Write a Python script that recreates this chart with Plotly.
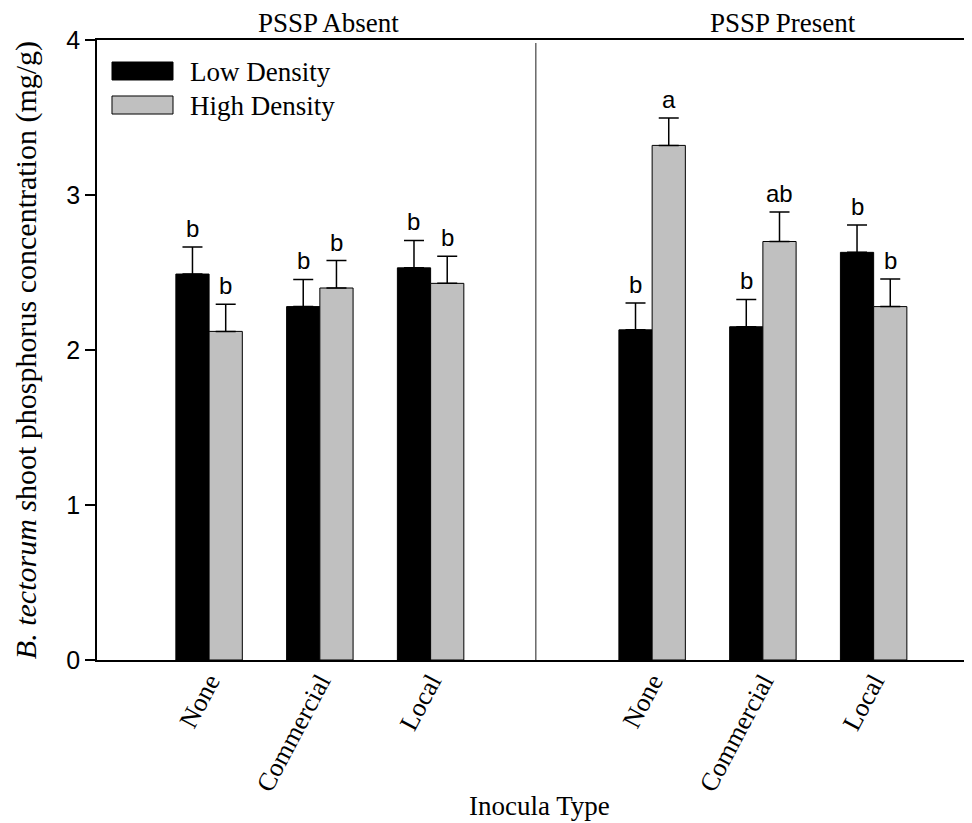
import plotly.graph_objects as go

# ---- data ----
categories = ["None", "Commercial", "Local", "None", "Commercial", "Local"]
positions = [1, 2, 3, 5, 6, 7]
low_density = [2.49, 2.28, 2.53, 2.13, 2.15, 2.63]
low_err = [0.175, 0.175, 0.177, 0.174, 0.176, 0.176]
high_density = [2.12, 2.40, 2.43, 3.32, 2.70, 2.28]
high_err = [0.175, 0.177, 0.175, 0.177, 0.19, 0.178]
low_letters = ["b", "b", "b", "b", "b", "b"]
high_letters = ["b", "b", "b", "a", "ab", "b"]
panel_titles = ["PSSP Absent", "PSSP Present"]
y_ticks = [0, 1, 2, 3, 4]

SERIF = "Liberation Serif, Times New Roman, serif"
SANS = "Liberation Sans, Arial, sans-serif"
BW = 0.3

fig = go.Figure()
fig.add_trace(go.Bar(
    x=[p - BW / 2 for p in positions], y=low_density, width=BW,
    marker=dict(color="black", line=dict(color="black", width=1)),
    error_y=dict(type="data", array=low_err, arrayminus=[0] * 6, symmetric=False,
                 color="black", thickness=1.5, width=10),
    name="Low Density", showlegend=False))
fig.add_trace(go.Bar(
    x=[p + BW / 2 for p in positions], y=high_density, width=BW,
    marker=dict(color="#c0c0c0", line=dict(color="black", width=1)),
    error_y=dict(type="data", array=high_err, arrayminus=[0] * 6, symmetric=False,
                 color="black", thickness=1.5, width=10),
    name="High Density", showlegend=False))

annotations = []
for p, v, e, t in zip(positions, low_density, low_err, low_letters):
    annotations.append(dict(x=p - BW / 2, y=v + e, text=t, showarrow=False, xref="x", yref="y",
                            yanchor="bottom", yshift=3, font=dict(family=SANS, size=24, color="black")))
for p, v, e, t in zip(positions, high_density, high_err, high_letters):
    annotations.append(dict(x=p + BW / 2, y=v + e, text=t, showarrow=False, xref="x", yref="y",
                            yanchor="bottom", yshift=3, font=dict(family=SANS, size=24, color="black")))

# panel titles
for xc, t in zip([2.08, 6.18], panel_titles):
    annotations.append(dict(x=xc, y=1, xref="x", yref="paper", text=t, showarrow=False,
                            yanchor="bottom", yshift=0, font=dict(family=SERIF, size=27, color="black")))

# axis titles
annotations.append(dict(x=0.506, y=0, xref="paper", yref="paper", text="Inocula Type",
                        showarrow=False, yanchor="middle", yshift=-146,
                        font=dict(family=SERIF, size=27, color="black")))
annotations.append(dict(x=-0.081, y=0.5, xref="paper", yref="paper",
                        text="<i>B. tectorum s</i>hoot phosphorus concentration (mg/g)",
                        showarrow=False, textangle=-90, xanchor="center", yanchor="middle",
                        font=dict(family=SERIF, size=30, color="black")))

# legend
legend_items = [("Low Density", "black", 0.9355, 0.9645), ("High Density", "#c0c0c0", 0.8806, 0.9097)]
shapes = []
for name, col, y0, y1 in legend_items:
    shapes.append(dict(type="rect", xref="paper", yref="paper", x0=0.01714, x1=0.08686,
                       y0=y0, y1=y1, fillcolor=col, line=dict(color="black", width=1)))
    annotations.append(dict(x=0.104, y=(y0 + y1) / 2, xref="paper", yref="paper", text=name,
                            showarrow=False, xanchor="left", yanchor="middle", yshift=-1,
                            font=dict(family=SERIF, size=27, color="black")))

# divider between panels
shapes.append(dict(type="line", xref="x", yref="y", x0=3.95, x1=3.95, y0=-0.02, y1=3.98,
                   line=dict(color="#444444", width=1.2)))

# page body has an 8px margin: compensate so the plot lands where the reference has it
fig.update_layout(
    width=964, height=815,
    margin=dict(l=89, r=0, t=32, b=163),
    plot_bgcolor="white", paper_bgcolor="white",
    barmode="overlay", showlegend=False,
    annotations=annotations, shapes=shapes,
    xaxis=dict(range=[-0.012, 7.888], tickvals=positions, ticktext=categories,
               tickangle=-62, ticks="", showgrid=False, zeroline=False,
               showline=True, linecolor="black", linewidth=2, mirror=True,
               tickfont=dict(family=SERIF, size=26, color="black"),
               ticklabelstandoff=-6),
    yaxis=dict(range=[0, 4], tickvals=y_ticks, ticks="outside", ticklen=10, tickwidth=1.5,
               tickcolor="black", showgrid=False, zeroline=False,
               showline=True, linecolor="black", linewidth=1.5,
               tickfont=dict(family=SANS, size=25, color="black")),
)
fig.write_html("out.html")
